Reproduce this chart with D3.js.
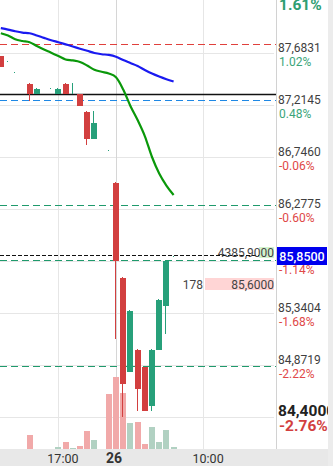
<!DOCTYPE html>
<html><head><meta charset="utf-8">
<script src="https://cdn.jsdelivr.net/npm/d3@7"></script>
<style>html,body{margin:0;padding:0;background:#fff;overflow:hidden}svg{display:block;font-family:Roboto,"Noto Sans",sans-serif}</style>
</head><body><svg id="c" width="333" height="466"></svg>
<script>
// ---- data ----
const open  = [87.656, 87.611, 87.512, null, 87.404, 87.314, null, 87.368, 87.314, 87.404, 87.314, 87.314, 87.151, 86.908, null, 86.809, 86.512, 85.656, 84.811, 85.007, 84.857, 84.505, 85.010, 85.406, 85.850];
const close = [87.557, 87.611, 87.512, null, 87.314, 87.359, null, 87.368, 87.359, 87.314, 87.314, 87.206, 86.908, 87.052, null, 86.809, 85.812, 84.703, 85.361, 84.659, 84.460, 85.007, 85.457, 85.812, 85.850];
const high  = [87.656, 87.615, 87.516, null, 87.413, 87.368, null, 87.372, 87.368, 87.413, 87.413, 87.314, 87.160, 87.160, null, 86.813, 86.521, 85.665, 85.367, 85.016, 84.857, 85.016, 85.466, 85.812, 85.854];
const low   = [87.557, 87.607, 87.508, null, 87.251, 87.314, null, 87.364, 87.314, 87.314, 87.314, 87.206, 86.854, 86.908, null, 86.805, 85.109, 84.406, 84.811, 84.460, 84.460, 84.460, 85.010, 85.154, 85.846];
const volume = [0, 0, 0, null, 140, 0, null, 0, 20, 70, 10, 30, 180, 90, null, 550, 720, 560, 260, 270, 50, 220, 70, 190, 20];
const maBlue  = [87.907, 87.894, 87.879, 87.867, 87.861, 87.841, 87.819, 87.798, 87.780, 87.761, 87.742, 87.722, 87.703, 87.683, 87.672, 87.666, 87.650, 87.620, 87.593, 87.566, 87.530, 87.498, 87.471, 87.447, 87.426];
const maGreen = [87.861, 87.841, 87.807, 87.791, 87.780, 87.746, 87.714, 87.686, 87.656, 87.625, 87.616, 87.602, 87.570, 87.532, 87.514, 87.498, 87.464, 87.354, 87.206, 87.079, 86.935, 86.746, 86.597, 86.489, 86.404];

const gridPrices = [87.6831, 87.2145, 86.7460, 86.2775, 85.8090, 85.3404, 84.8719, 84.4034];
const priceLabels = ['87,6831', '87,2145', '86,7460', '86,2775', '85,8090', '85,3404', '84,8719'];
const pctLabels = ['1.02%', '0.48%', '-0.06%', '-0.60%', '-1.14%', '-1.68%', '-2.22%'];
const highPrice = 88.1955, highPct = '1.61%';
const lowPrice = 84.4000, lowLabel = '84,4000', lowPct = '-2.76%';
const lastPrice = 85.85, lastLabel = '85,8500';
const refLevels = [87.764, 87.311, 87.260, 86.314, 85.860, 85.815, 84.860];
const orderPrice = 85.60, orderQty = '178', orderLabel = '85,6000';
const otherLabel = '4385,9000';
const timeTicks = [8, 16, 28.1];
const timeLabels = ['17:00', '26', '10:00'];

// ---- layout ----
const svg = d3.select('#c');
const AX = 276, VB = 449;
const x = d3.scaleLinear().domain([0, 24]).range([0.8, 173.6]);
const y = d3.scaleLinear().domain([84.4034, 87.6831]).range([417, 53]);
const yv = d3.scaleLinear().domain([0, 1000]).range([VB, VB - 100]);
const GREEN = '#27a07a', RED = '#d23f3f';

svg.append('defs').append('clipPath').attr('id', 'clip')
  .append('rect').attr('x', 0).attr('y', 0).attr('width', AX).attr('height', VB);

// strips
svg.append('rect').attr('x', 0).attr('y', VB).attr('width', 333).attr('height', 466 - VB).attr('fill', '#e8e8e8');

// grid
svg.append('g').selectAll('line').data(gridPrices).join('line')
  .attr('x1', 0).attr('x2', 274)
  .attr('y1', d => Math.round(y(d)) + 0.5).attr('y2', d => Math.round(y(d)) + 0.5)
  .attr('stroke', '#e6e6e6').attr('stroke-width', 1);
svg.append('g').selectAll('line').data(timeTicks).join('line')
  .attr('x1', d => Math.round(x(d)) + 0.5).attr('x2', d => Math.round(x(d)) + 0.5)
  .attr('y1', 0).attr('y2', VB)
  .attr('stroke', (d, i) => i === 1 ? '#d6d6d6' : '#e6e6e6').attr('stroke-width', 1);
svg.append('line').attr('x1', AX + 0.5).attr('x2', AX + 0.5).attr('y1', 0).attr('y2', VB)
  .attr('stroke', '#d2d2d2');

const plot = svg.append('g').attr('clip-path', 'url(#clip)');
const idx = d3.range(open.length).filter(i => open[i] != null);
const bx = i => Math.round(x(i) - 3);
const isUp = i => close[i] > open[i] ? true : close[i] < open[i] ? false : (i === 0 || close[i] >= (close[i - 1] ?? close[i - 2]));

// volume
plot.append('g').selectAll('rect').data(idx.filter(i => volume[i] > 0)).join('rect')
  .attr('x', bx).attr('width', 6)
  .attr('y', i => Math.round(yv(volume[i]))).attr('height', i => VB - Math.round(yv(volume[i])))
  .attr('fill', i => isUp(i) ? '#b1d1c2' : '#f1a9a9');

// reference lines
const refStyle = [
  {c: '#e0403c', d: '7,4', w: 1.2},
  {c: '#111', d: null, w: 1.3},
  {c: '#1e88e5', d: '7,4', w: 1.2},
  {c: '#1f9a6c', d: '7,4', w: 1.1},
  {c: '#111', d: '4,2', w: 1.1},
  {c: '#1f9a6c', d: '7,4', w: 1.1},
  {c: '#1f9a6c', d: '7,4', w: 1.1}
];
plot.append('g').selectAll('line').data(refLevels).join('line')
  .attr('x1', 0).attr('x2', AX)
  .attr('y1', d => Math.round(y(d)) + 0.5).attr('y2', d => Math.round(y(d)) + 0.5)
  .attr('stroke', (d, i) => refStyle[i].c).attr('stroke-width', (d, i) => refStyle[i].w)
  .attr('stroke-dasharray', (d, i) => refStyle[i].d);

// moving averages
const line = d3.line().x((d, i) => x(i)).y(d => y(d)).curve(d3.curveMonotoneX);
plot.append('path').datum(maBlue).attr('d', line).attr('fill', 'none').attr('stroke', '#1a1af0').attr('stroke-width', 2.2);
plot.append('path').datum(maGreen).attr('d', line).attr('fill', 'none').attr('stroke', '#0a980a').attr('stroke-width', 2.2);

// candles
const cg = plot.append('g');
cg.selectAll('rect.w').data(idx).join('rect').attr('class', 'w')
  .attr('x', i => bx(i) + 2).attr('width', 1)
  .attr('y', i => Math.round(y(high[i])))
  .attr('height', i => Math.max(1, Math.round(y(low[i])) - Math.round(y(high[i]))))
  .attr('fill', i => close[i] >= open[i] ? GREEN : RED);
cg.selectAll('rect.b').data(idx.filter(i => open[i] !== close[i])).join('rect').attr('class', 'b')
  .attr('x', bx).attr('width', 6)
  .attr('y', i => Math.round(y(Math.max(open[i], close[i]))))
  .attr('height', i => Math.max(1, Math.round(y(Math.min(open[i], close[i]))) - Math.round(y(Math.max(open[i], close[i])))))
  .attr('fill', i => close[i] >= open[i] ? GREEN : RED);

// in-plot labels
const yo = Math.round(y(orderPrice));
svg.append('rect').attr('x', 205).attr('y', yo - 6).attr('width', 69).attr('height', 12).attr('fill', '#ffd5d5');
svg.append('text').attr('x', 274).attr('y', yo + 4.5).attr('text-anchor', 'end').attr('font-size', 12).attr('fill', '#444').text(orderLabel);
svg.append('text').attr('x', 203).attr('y', yo + 4.5).attr('text-anchor', 'end').attr('font-size', 12).attr('fill', '#444').text(orderQty);
const yb = Math.round(y(refLevels[4]));
svg.append('rect').attr('x', 259).attr('y', yb - 8).attr('width', 15).attr('height', 11).attr('fill', '#d3f3cd');
svg.append('text').attr('x', 274).attr('y', yb + 2).attr('text-anchor', 'end').attr('font-size', 12).attr('fill', '#444').text(otherLabel);

// right axis (labels hidden behind the last-price badge are not drawn)
const yl = y(lastPrice);
const hidden = i => Math.abs(y(gridPrices[i]) - 4 - yl) < 9;
const ax = svg.append('g').attr('font-size', 12);
ax.selectAll('text.p').data(priceLabels.map((t, i) => i).filter(i => !hidden(i))).join('text').attr('class', 'p')
  .attr('x', 278).attr('y', i => y(gridPrices[i]) - 0.7).attr('fill', '#3f3f3f').text(i => priceLabels[i]);
ax.selectAll('text.q').data(pctLabels).join('text').attr('class', 'q')
  .attr('x', 279).attr('y', (d, i) => y(gridPrices[i]) + 12.7)
  .attr('fill', d => d.startsWith('-') ? '#e04848' : '#3aa57a').text(d => d);
svg.append('text').attr('x', 279).attr('y', y(highPrice) + 13.5).attr('font-size', 15.5).attr('font-weight', 700)
  .attr('fill', '#2e9e72').text(highPct);
svg.append('text').attr('x', 278).attr('y', y(lowPrice) - 1).attr('font-size', 15.5).attr('font-weight', 700)
  .attr('fill', '#222').text(lowLabel);
svg.append('text').attr('x', 279).attr('y', y(lowPrice) + 14).attr('font-size', 15.5).attr('font-weight', 700)
  .attr('fill', '#d23f3f').text(lowPct);
// right strip overlays clipped label
svg.append('rect').attr('x', 328).attr('y', 0).attr('width', 5).attr('height', 466).attr('fill', '#ececec');

// last price badge
svg.append('rect').attr('x', 277).attr('y', Math.round(yl) - 9).attr('width', 50).attr('height', 18).attr('fill', '#0000ee');
svg.append('text').attr('x', 302).attr('y', Math.round(yl) + 4.5).attr('text-anchor', 'middle').attr('font-size', 12.5)
  .attr('font-weight', 500).attr('fill', '#fff').text(lastLabel);

// time axis labels
const dxs = [4.5, -2, 5];
svg.append('g').selectAll('text').data(timeTicks).join('text')
  .attr('x', (d, i) => x(d) + dxs[i]).attr('y', 462.5).attr('text-anchor', 'middle')
  .attr('font-size', (d, i) => i === 1 ? 14 : 12.5).attr('font-weight', (d, i) => i === 1 ? 700 : 400)
  .attr('fill', '#333').text((d, i) => timeLabels[i]);
</script></body></html>
